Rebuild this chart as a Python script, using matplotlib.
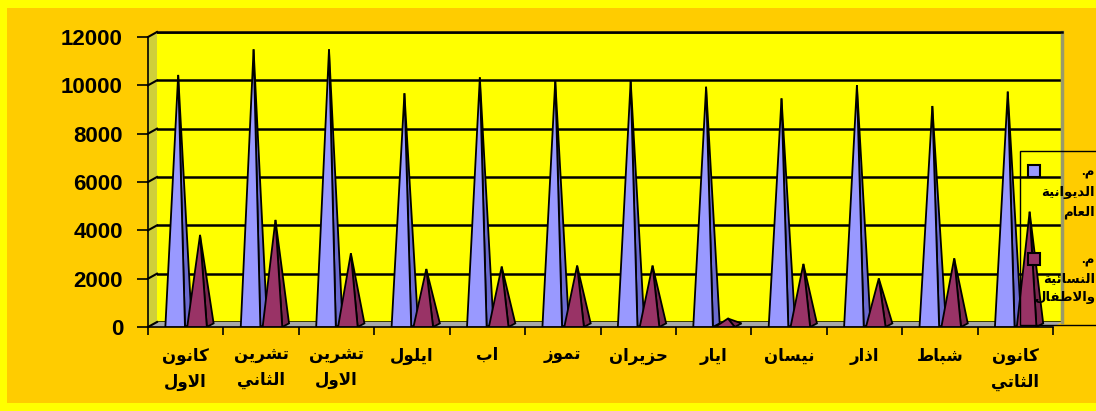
import matplotlib
matplotlib.use('Agg')
import matplotlib.pyplot as plt
from matplotlib.patches import Rectangle, Polygon

# data
months = ['كانون\nالاول', 'تشرين\nالثاني', 'تشرين\nالاول', 'ايلول', 'اب', 'تموز',
          'حزيران', 'ايار', 'نيسان', 'اذار', 'شباط', 'كانون\nالثاتي']
diwaniya = [10430, 11490, 11490, 9670, 10330, 10190, 10190, 9940, 9460, 10010, 9145, 9740]
maternity = [3810, 4430, 3050, 2400, 2500, 2540, 2540, 350, 2610, 2010, 2840, 4770]
series_names = ['م.\nالديوانية\nالعام', 'م.\nالنسائية\nوالاطفال']
y_ticks = [0, 2000, 4000, 6000, 8000, 10000, 12000]

# arabic presentation forms (isolated code point, number of forms)
FORMS = {
    'ء': (0xFE80, 1), 'ا': (0xFE8D, 2), 'ب': (0xFE8F, 4), 'ة': (0xFE93, 2),
    'ت': (0xFE95, 4), 'ث': (0xFE99, 4), 'ح': (0xFEA1, 4), 'د': (0xFEA9, 2),
    'ذ': (0xFEAB, 2), 'ر': (0xFEAD, 2), 'ز': (0xFEAF, 2), 'س': (0xFEB1, 4),
    'ش': (0xFEB5, 4), 'ط': (0xFEC1, 4), 'ع': (0xFEC9, 4), 'ف': (0xFED1, 4),
    'ك': (0xFED9, 4), 'ل': (0xFEDD, 4), 'م': (0xFEE1, 4), 'ن': (0xFEE5, 4),
    'و': (0xFEED, 2), 'ي': (0xFEF1, 4), 'ئ': (0xFE89, 4), 'LA': (0xFEFB, 2),
}


def shape_line(line):
    '''joins the arabic letters and puts them in visual (left to right) order'''
    letters = []
    i = 0
    while i < len(line):
        if line[i] == 'ل' and i + 1 < len(line) and line[i + 1] == 'ا':
            letters.append('LA')        # lam-alef ligature
            i += 2
        else:
            letters.append(line[i])
            i += 1
    out = []
    for k, ch in enumerate(letters):
        if ch not in FORMS:
            out.append(ch)
            continue
        base, n = FORMS[ch]
        prev = letters[k - 1] if k > 0 else None
        nxt = letters[k + 1] if k + 1 < len(letters) else None
        join_prev = prev in FORMS and FORMS[prev][1] == 4
        join_next = n == 4 and nxt in FORMS and FORMS[nxt][1] > 1
        if join_prev and join_next:
            code = base + 3
        elif join_prev:
            code = base + 1
        elif join_next:
            code = base + 2
        else:
            code = base
        out.append(chr(code))
    return ''.join(reversed(out))


def ar(text):
    return '\n'.join(shape_line(l) for l in text.split('\n'))


plt.rcParams['font.family'] = ['Liberation Sans', 'DejaVu Sans']

W, H = 1096, 411
fig = plt.figure(figsize=(W / 100, H / 100), dpi=100)
fig.patch.set_facecolor('#FFFF00')


def px(x, y):
    # figure pixel (from top-left) -> figure fraction
    return x / W, 1 - y / H


# orange chart area
fig.patches.append(Rectangle(px(7, 403), (W - 7) / W, (403 - 8) / H,
                             transform=fig.transFigure, facecolor='#FFCC00',
                             edgecolor='none', zorder=-2))

# back wall (shifted up-right for the 3d look)
wall = fig.add_axes([157 / W, 1 - 322 / H, (1053 - 148) / W, (327 - 37) / H])
wall.set_zorder(0)
wall.set_facecolor('#FFFF00')
wall.set_xlim(0, len(months))
wall.set_ylim(0, 12000)
wall.set_yticks(y_ticks)
wall.set_xticks([])
wall.tick_params(left=False, labelleft=False)
wall.grid(axis='y', color='black', linewidth=1.8)
wall.set_axisbelow(True)
for s in ['left', 'bottom']:
    wall.spines[s].set_visible(False)
wall.spines['top'].set_linewidth(1.8)
wall.spines['right'].set_color('#9A9A6A')
wall.spines['right'].set_linewidth(2.5)

# left wall and floor
fig.patches.append(Polygon([px(148, 327), px(148, 37), px(157, 32), px(157, 322)],
                           closed=True, transform=fig.transFigure,
                           facecolor='#CFCF3A', edgecolor='none', zorder=1))
fig.patches.append(Polygon([px(148, 327), px(1053, 327), px(1062, 322), px(157, 322)],
                           closed=True, transform=fig.transFigure,
                           facecolor='#A8A8A8', edgecolor='none', zorder=1))
# gridlines running across the left wall
for v in y_ticks:
    yf = 327 - v * 290 / 12000
    fig.lines.append(plt.Line2D([148 / W, 157 / W], [1 - yf / H, 1 - (yf - 5) / H],
                                transform=fig.transFigure, color='black',
                                linewidth=1.5, zorder=1.5))

# front axes holding the pyramids, ticks and labels
ax = fig.add_axes([148 / W, 1 - 327 / H, (1053 - 148) / W, (327 - 37) / H])
ax.set_zorder(2)
ax.set_facecolor('none')
ax.set_xlim(0, len(months))
ax.set_ylim(0, 12000)
ax.set_yticks(y_ticks)
ax.set_yticklabels([str(v) for v in y_ticks], fontsize=16, fontweight='bold')
ax.tick_params(axis='y', length=8, width=1.2, pad=10)
ax.set_xticks(range(len(months) + 1))
ax.set_xticklabels([])
ax.tick_params(axis='x', which='major', length=6, width=1.2)
ax.set_xticks([i + 0.5 for i in range(len(months))], minor=True)
ax.set_xticklabels([ar(m) for m in months], minor=True, fontsize=12,
                   fontweight='bold', linespacing=1.7, va='top')
ax.tick_params(axis='x', which='minor', length=0, pad=15)
ax.spines['top'].set_visible(False)
ax.spines['right'].set_visible(False)
ax.spines['left'].set_linewidth(1.2)
ax.spines['bottom'].set_linewidth(1.2)


def pyramid(x0, value, light, dark):
    # front face plus darker right face
    left, tip, front_r, back_r = x0, x0 + 0.17, x0 + 0.26, x0 + 0.35
    ax.add_patch(Polygon([(front_r, 0), (tip, value), (back_r, 150)], closed=True,
                         facecolor=dark, edgecolor='black', linewidth=1.3, zorder=3))
    ax.add_patch(Polygon([(left, 0), (tip, value), (front_r, 0)], closed=True,
                         facecolor=light, edgecolor='black', linewidth=1.3, zorder=3))


for i in range(len(months)):
    pyramid(i + 0.23, diwaniya[i], '#9999FF', '#6B6BD0')
    pyramid(i + 0.52, maternity[i], '#993366', '#7A2850')

# legend box (open at the right edge like the original)
fig.patches.append(Rectangle(px(1020, 325), (W - 1020 + 10) / W, (325 - 151) / H,
                             transform=fig.transFigure, facecolor='none',
                             edgecolor='black', linewidth=1.0, zorder=5))
colors = ['#9999FF', '#993366']
marker_y = [171, 259]
for name, c, my in zip(series_names, colors, marker_y):
    fig.patches.append(Rectangle(px(1028, my + 6), 12 / W, 12 / H,
                                 transform=fig.transFigure, facecolor=c,
                                 edgecolor='black', linewidth=1.5, zorder=6))
    x, y = px(1095, my - 4)
    fig.text(x, y, ar(name), ha='right', va='top', fontsize=9.5,
             fontweight='bold', linespacing=1.65, zorder=6)

plt.savefig('out.png', dpi=100, facecolor=fig.get_facecolor())
